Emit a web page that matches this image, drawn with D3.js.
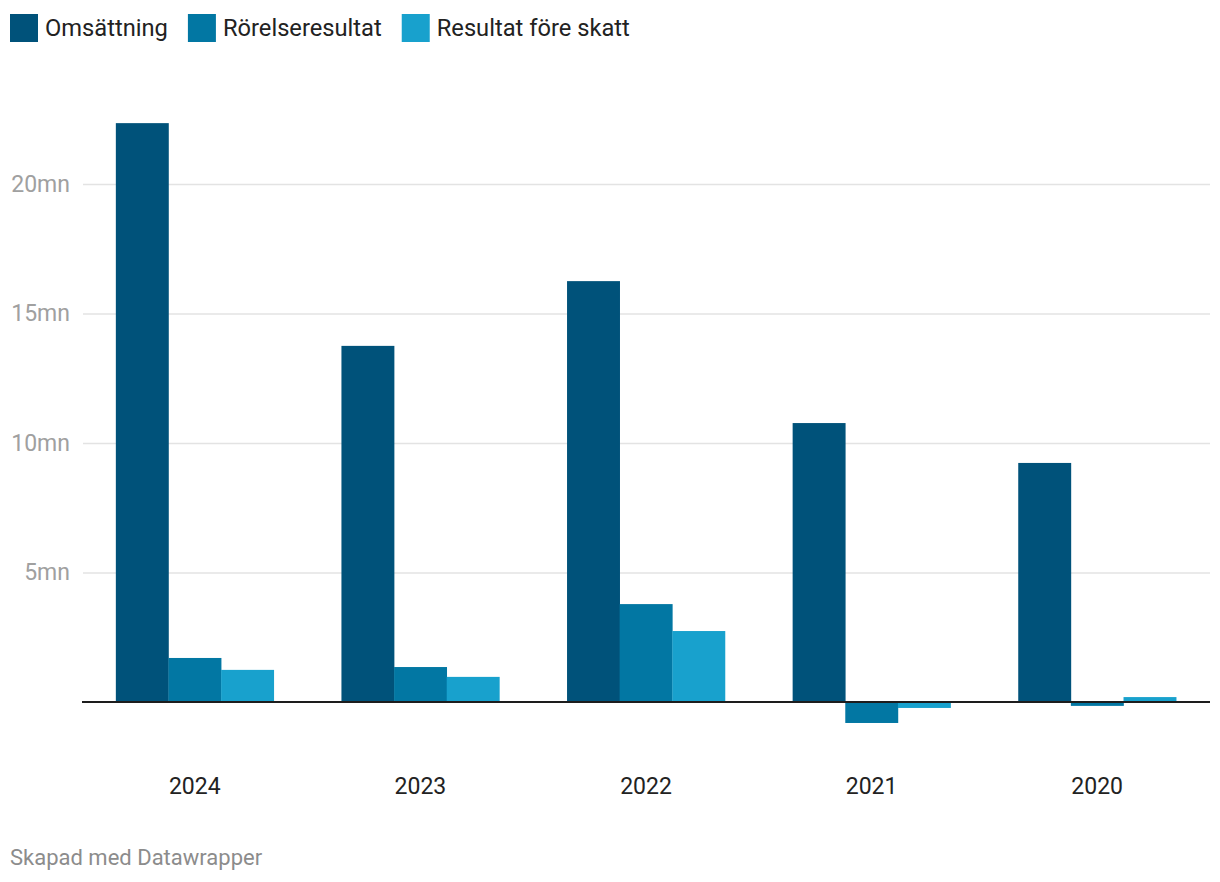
<!DOCTYPE html>
<html>
<head>
<meta charset="utf-8">
<script src="https://cdn.jsdelivr.net/npm/d3@7"></script>
<style>
  body { margin: 0; background: #fff; font-family: Roboto, "Noto Sans", sans-serif; }
</style>
</head>
<body>
<div id="chart"></div>
<script>
// Data (values in millions)
// ==============================
var years = ["2024", "2023", "2022", "2021", "2020"];
var seriesNames = ["Omsättning", "Rörelseresultat", "Resultat före skatt"];
var omsattning = [22.35, 13.75, 16.25, 10.77, 9.23];
var rorelseresultat = [1.70, 1.35, 3.78, -0.81, -0.15];
var resultatForeSkatt = [1.24, 0.97, 2.74, -0.23, 0.19];
var yTicks = [5, 10, 15, 20];
var colors = ["#00527a", "#0277a3", "#18a1cd"];

var svgWidth = 1220;
var svgHeight = 882;

var svg = d3.select("#chart")
  .append("svg")
  .attr("width", svgWidth)
  .attr("height", svgHeight);

// Scales
// ==============================
var xScale = d3.scaleBand()
  .domain(years)
  .range([82, 1210])
  .paddingInner(0.3)
  .paddingOuter(0.15);

var xSub = d3.scaleBand()
  .domain(seriesNames)
  .range([0, xScale.bandwidth()]);

var yScale = d3.scaleLinear()
  .domain([0, 20])
  .range([702, 184]);

var colorScale = d3.scaleOrdinal()
  .domain(seriesNames)
  .range(colors);

// Gridlines + y labels
// ==============================
var yAxis = d3.axisLeft(yScale)
  .tickValues(yTicks)
  .tickSize(-(1210 - 83))
  .tickPadding(13)
  .tickFormat(d => d + "mn");

var yG = svg.append("g")
  .attr("transform", "translate(83,0)")
  .call(yAxis);

yG.select(".domain").remove();
yG.selectAll(".tick line")
  .attr("stroke", "#e3e3e3")
  .attr("stroke-width", 1.3);
yG.selectAll(".tick text")
  .attr("fill", "#a0a0a0")
  .style("font-family", "Roboto, sans-serif")
  .style("font-size", "23px");

// Bars
// ==============================
var table = years.map(function(y, i) {
  return {
    year: y,
    values: [omsattning[i], rorelseresultat[i], resultatForeSkatt[i]].map(function(v, j) {
      return { name: seriesNames[j], value: v };
    })
  };
});

var groups = svg.selectAll(".group")
  .data(table)
  .enter()
  .append("g")
  .attr("class", "group")
  .attr("transform", d => `translate(${xScale(d.year)},0)`);

groups.selectAll("rect")
  .data(d => d.values)
  .enter()
  .append("rect")
  .attr("x", d => xSub(d.name))
  .attr("width", xSub.bandwidth() + 0.3)
  .attr("y", d => yScale(Math.max(0, d.value)))
  .attr("height", d => Math.abs(yScale(d.value) - yScale(0)))
  .attr("fill", d => colorScale(d.name));

// Zero line
// ==============================
svg.append("line")
  .attr("x1", 82)
  .attr("x2", 1210)
  .attr("y1", yScale(0))
  .attr("y2", yScale(0))
  .attr("stroke", "#1d1d1d")
  .attr("stroke-width", 2);

// X labels
// ==============================
var xAxis = d3.axisBottom(xScale).tickSize(0).tickPadding(0);
var xG = svg.append("g")
  .attr("transform", "translate(0,794)")
  .call(xAxis);
xG.select(".domain").remove();
xG.selectAll(".tick text")
  .attr("fill", "#222")
  .attr("dy", 0)
  .style("font-family", "Roboto, sans-serif")
  .style("font-size", "23px");

// Legend
// ==============================
var legend = svg.append("g").attr("class", "legend");
var lx = 10;
seriesNames.forEach(function(name) {
  legend.append("rect")
    .attr("x", lx)
    .attr("y", 14)
    .attr("width", 28)
    .attr("height", 28)
    .attr("fill", colorScale(name));
  var t = legend.append("text")
    .attr("x", lx + 35)
    .attr("y", 36)
    .attr("fill", "#222")
    .style("font-family", "Roboto, sans-serif")
    .style("font-size", "23.7px")
    .text(name);
  lx = lx + 35 + t.node().getComputedTextLength() + 20;
});

// Footer
// ==============================
svg.append("text")
  .attr("x", 10)
  .attr("y", 865)
  .attr("fill", "#8c8c8c")
  .style("font-family", "Roboto, sans-serif")
  .style("font-size", "22px")
  .text("Skapad med Datawrapper");
</script>
</body>
</html>
